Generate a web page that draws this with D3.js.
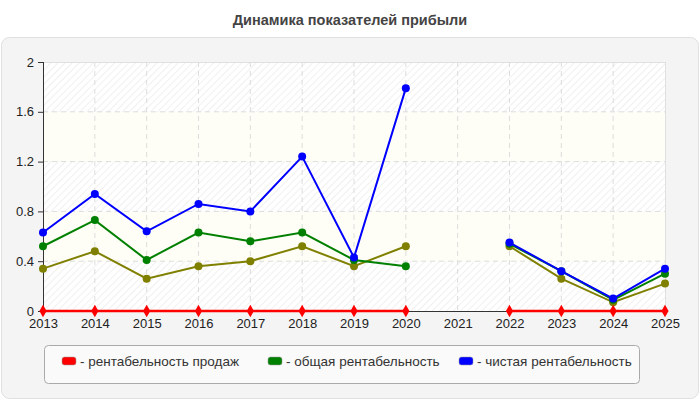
<!DOCTYPE html>
<html>
<head>
<meta charset="utf-8">
<script src="https://cdn.jsdelivr.net/npm/d3@7"></script>
<style>
body { margin: 0; background: #fff; }
text { font-family: "Liberation Sans", Arial, sans-serif; }
</style>
</head>
<body>
<div id="chart"></div>
<script>
var w = 700;
var h = 400;

var years = ["2013","2014","2015","2016","2017","2018","2019","2020","2021","2022","2023","2024","2025"];
var yTicks = [0, 0.4, 0.8, 1.2, 1.6, 2];

var salesProfit = [0, 0, 0, 0, 0, 0, 0, 0, null, 0, 0, 0, 0];
var totalProfit = [0.52, 0.73, 0.41, 0.63, 0.56, 0.63, 0.41, 0.36, null, 0.54, 0.32, 0.09, 0.30];
var netProfit = [0.63, 0.94, 0.64, 0.86, 0.80, 1.24, 0.43, 1.79, null, 0.55, 0.32, 0.10, 0.34];
var otherProfit = [0.34, 0.48, 0.26, 0.36, 0.40, 0.52, 0.36, 0.52, null, 0.52, 0.26, 0.07, 0.22];

var series = [
  {name: "", values: otherProfit, color: "#808000", marker: "circle", legend: false},
  {name: "- общая рентабельность", values: totalProfit, color: "#008000", marker: "circle", legend: true},
  {name: "- чистая рентабельность", values: netProfit, color: "#0000ff", marker: "circle", legend: true},
  {name: "- рентабельность продаж", values: salesProfit, color: "#ff0000", marker: "diamond", legend: true}
];
var legendOrder = [3, 1, 2];

var svg = d3.select("#chart")
            .append("svg")
            .attr("width", w)
            .attr("height", h);

var defs = svg.append("defs");
var pat = defs.append("pattern")
    .attr("id", "hatch")
    .attr("patternUnits", "userSpaceOnUse")
    .attr("width", 5)
    .attr("height", 5)
    .attr("patternTransform", "rotate(45)");
pat.append("rect").attr("width", 5).attr("height", 5).attr("fill", "#ffffff");
pat.append("line").attr("x1", 0).attr("y1", 0).attr("x2", 0).attr("y2", 5)
   .attr("stroke", "#ececec").attr("stroke-width", 1.5);

// title
svg.append("text")
   .attr("x", w/2)
   .attr("y", 25)
   .attr("text-anchor", "middle")
   .attr("font-size", 14.5)
   .attr("font-weight", "bold")
   .attr("fill", "#444")
   .text("Динамика показателей прибыли");

// outer panel
svg.append("rect")
   .attr("x", 1.5).attr("y", 37.5)
   .attr("width", 697).attr("height", 361)
   .attr("rx", 8)
   .attr("fill", "#f4f4f4")
   .attr("stroke", "#e0e0e0");

var pLeft = 43, pRight = 665, pTop = 62, pBottom = 311;

var x = d3.scalePoint().domain(years).range([pLeft, pRight]);
var y = d3.scaleLinear().domain([0, 2]).range([pBottom, pTop]);

// bands
var bands = d3.pairs(yTicks);
svg.selectAll(".band")
   .data(bands)
   .enter()
   .append("rect")
   .attr("x", pLeft)
   .attr("y", function(d){ return y(d[1]) })
   .attr("width", pRight - pLeft)
   .attr("height", function(d){ return y(d[0]) - y(d[1]) })
   .attr("fill", function(d, i){ return i % 2 == 0 ? "url(#hatch)" : "#fefef6" });

svg.append("rect")
   .attr("x", pLeft + 0.5).attr("y", pTop + 0.5)
   .attr("width", pRight - pLeft).attr("height", pBottom - pTop)
   .attr("fill", "none")
   .attr("stroke", "#e0e0e0");

// grid
svg.selectAll(".vgrid")
   .data(years.slice(1, -1))
   .enter()
   .append("line")
   .attr("x1", function(d){ return x(d) })
   .attr("x2", function(d){ return x(d) })
   .attr("y1", pTop).attr("y2", pBottom)
   .attr("stroke", "#dddddd")
   .attr("stroke-dasharray", "5,4");

svg.selectAll(".hgrid")
   .data(yTicks.slice(1, -1))
   .enter()
   .append("line")
   .attr("x1", pLeft).attr("x2", pRight)
   .attr("y1", function(d){ return y(d) })
   .attr("y2", function(d){ return y(d) })
   .attr("stroke", "#dddddd")
   .attr("stroke-dasharray", "5,4");

// axes
var yAxis = svg.append("g")
   .attr("transform", "translate(" + pLeft + ",0)")
   .call(d3.axisLeft(y).tickValues(yTicks).tickSize(5).tickPadding(4).tickFormat(function(d){ return d }));
var xAxis = svg.append("g")
   .attr("transform", "translate(0," + pBottom + ")")
   .call(d3.axisBottom(x).tickSize(0).tickPadding(8));

[yAxis, xAxis].forEach(function(a) {
  a.select(".domain").attr("stroke", "#333");
  a.selectAll(".tick line").attr("stroke", "#333");
  a.selectAll("text").attr("font-size", 13).attr("fill", "#222")
   .style("font-family", "'Liberation Sans', Arial, sans-serif");
});
yAxis.select(".domain").attr("d", "M0.5," + pTop + "V" + pBottom);
xAxis.select(".domain").attr("d", "M" + pLeft + ",0.5H" + pRight);

// lines
var line = d3.line()
   .defined(function(d){ return d != null })
   .x(function(d, i){ return x(years[i]) })
   .y(function(d){ return y(d) });

series.forEach(function(s) {
  svg.append("path")
     .datum(s.values)
     .attr("d", line)
     .attr("fill", "none")
     .attr("stroke", s.color)
     .attr("stroke-width", s.marker == "diamond" ? 2.5 : 2);

  var pts = s.values.map(function(v, i){ return {v: v, year: years[i]} })
                    .filter(function(d){ return d.v != null });
  if (s.marker == "circle") {
    svg.selectAll(null)
       .data(pts)
       .enter()
       .append("circle")
       .attr("cx", function(d){ return x(d.year) })
       .attr("cy", function(d){ return y(d.v) })
       .attr("r", 4)
       .attr("fill", s.color);
  } else {
    svg.selectAll(null)
       .data(pts)
       .enter()
       .append("path")
       .attr("d", d3.symbol().type(d3.symbolDiamond).size(45))
       .attr("transform", function(d){ return "translate(" + x(d.year) + "," + y(d.v) + ")" })
       .attr("fill", s.color);
  }
});

// legend
svg.append("rect")
   .attr("x", 44.5).attr("y", 345.5)
   .attr("width", 595).attr("height", 38)
   .attr("rx", 4)
   .attr("fill", "#fafafa")
   .attr("stroke", "#aaaaaa");

var legendX = [62, 268, 459];
legendOrder.forEach(function(si, k) {
  var s = series[si];
  var g = svg.append("g").attr("transform", "translate(" + legendX[k] + ",357)");
  g.append("rect")
   .attr("width", 14).attr("height", 8)
   .attr("rx", 2.5)
   .attr("fill", s.color)
   .attr("stroke", "#999")
   .attr("stroke-width", 0.5);
  g.append("text")
   .attr("x", 18).attr("y", 9)
   .attr("font-size", 13.5)
   .attr("fill", "#333")
   .text(s.name);
});
</script>
</body>
</html>
